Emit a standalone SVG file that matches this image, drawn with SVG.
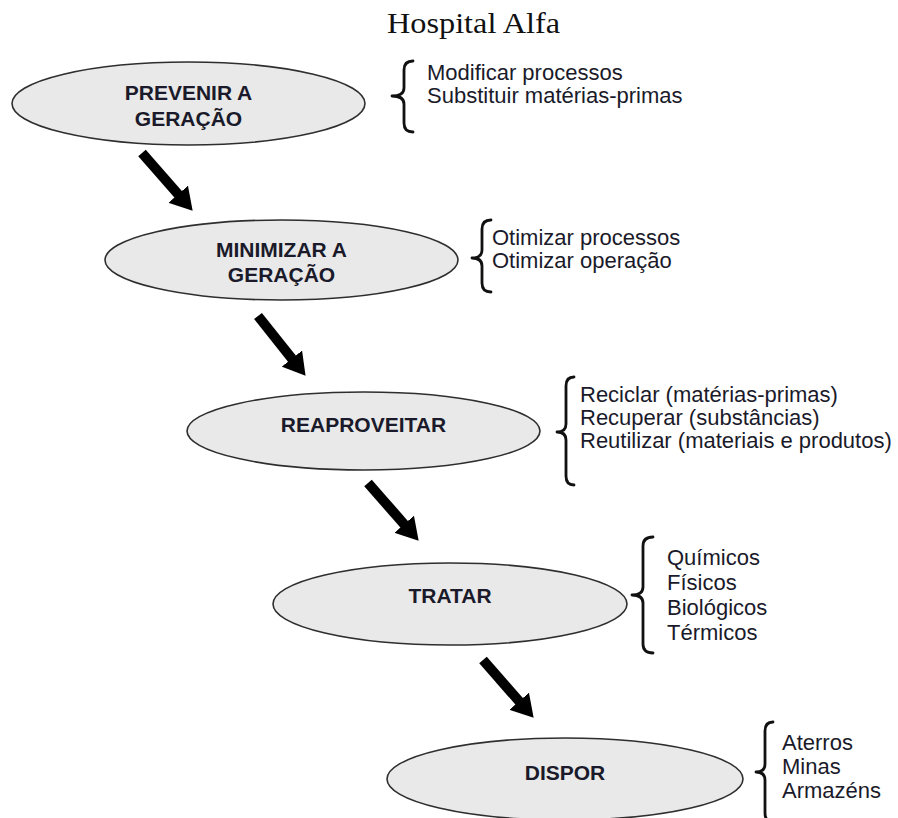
<svg xmlns="http://www.w3.org/2000/svg" width="898" height="818" viewBox="0 0 898 818">
<style>
.title{font-family:"Liberation Serif","Times New Roman",serif;font-size:30px;fill:#111}
.node ellipse{fill:#e9e9e9;stroke:#2e2e2e;stroke-width:1.6}
.lbl{font-family:"Liberation Sans",Arial,sans-serif;font-size:21px;font-weight:bold;fill:#1a1a2a;text-anchor:middle}
.side{font-family:"Liberation Sans",Arial,sans-serif;font-size:22px;fill:#1a1a2a}
.brace{fill:none;stroke:#111;stroke-width:2.8;stroke-linecap:round;stroke-linejoin:round}
.arr{stroke:#000;stroke-width:10;fill:none}
</style>
<defs>
<marker id="ah" markerUnits="userSpaceOnUse" markerWidth="22" markerHeight="26" refX="1" refY="13" orient="auto" viewBox="0 0 22 26">
<path d="M0,0 L22,13 L0,26 Z" fill="#000"/>
</marker>
</defs>
<rect width="898" height="818" fill="#fff"/>
<text class="title" x="387" y="33" textLength="173" lengthAdjust="spacingAndGlyphs">Hospital Alfa</text>

<g id="connectors">
<line class="arr" x1="142" y1="153" x2="178.8" y2="195" marker-end="url(#ah)"/>
<line class="arr" x1="258" y1="316" x2="292.5" y2="359.4" marker-end="url(#ah)"/>
<line class="arr" x1="368" y1="483" x2="404.8" y2="525" marker-end="url(#ah)"/>
<line class="arr" x1="483" y1="660" x2="519.8" y2="702" marker-end="url(#ah)"/>
</g>

<g id="n1" class="node">
<ellipse cx="188.5" cy="103.5" rx="176.5" ry="41.5"/>
<text class="lbl" x="188.5" y="100">PREVENIR A</text>
<text class="lbl" x="188.5" y="126">GERAÇÃO</text>
</g>
<g id="b1">
<path class="brace" d="M413,61 Q404,61 404,70 L404,88 Q404,96 392,96 Q404,96 404,104 L404,123 Q404,132 413,132"/>
<text class="side" x="427" y="80">Modificar processos</text>
<text class="side" x="427" y="103">Substituir matérias-primas</text>
</g>

<g id="n2" class="node">
<ellipse cx="281.5" cy="260" rx="176.5" ry="40"/>
<text class="lbl" x="281.5" y="257">MINIMIZAR A</text>
<text class="lbl" x="281.5" y="282">GERAÇÃO</text>
</g>
<g id="b2">
<path class="brace" d="M491,220 Q482,220 482,229 L482,250 Q482,258 472,258 Q482,258 482,266 L482,283 Q482,292 491,292"/>
<text class="side" x="492" y="245">Otimizar processos</text>
<text class="side" x="492" y="268">Otimizar operação</text>
</g>

<g id="n3" class="node">
<ellipse cx="363.5" cy="431" rx="176.5" ry="39"/>
<text class="lbl" x="363.5" y="432">REAPROVEITAR</text>
</g>
<g id="b3">
<path class="brace" d="M574,377 Q566,377 566,386 L566,424 Q566,432 557,432 Q566,432 566,440 L566,476 Q566,485 574,485"/>
<text class="side" x="580" y="402">Reciclar (matérias-primas)</text>
<text class="side" x="580" y="425">Recuperar (substâncias)</text>
<text class="side" x="580" y="448">Reutilizar (materiais e produtos)</text>
</g>

<g id="n4" class="node">
<ellipse cx="450" cy="604" rx="177" ry="41"/>
<text class="lbl" x="450" y="603">TRATAR</text>
</g>
<g id="b4">
<path class="brace" d="M653,537 Q643,537 643,546 L643,587 Q643,595 632,595 Q643,595 643,603 L643,644 Q643,653 653,653"/>
<text class="side" x="667" y="565">Químicos</text>
<text class="side" x="667" y="590">Físicos</text>
<text class="side" x="667" y="615">Biológicos</text>
<text class="side" x="667" y="640">Térmicos</text>
</g>

<g id="n5" class="node">
<ellipse cx="565" cy="779" rx="178" ry="41"/>
<text class="lbl" x="565" y="780">DISPOR</text>
</g>
<g id="b5">
<path class="brace" d="M773,722 Q765,722 765,731 L765,764 Q765,772 756,772 Q765,772 765,780 L765,813 Q765,822 773,822"/>
<text class="side" x="782" y="750">Aterros</text>
<text class="side" x="782" y="774">Minas</text>
<text class="side" x="782" y="798">Armazéns</text>
</g>
</svg>
